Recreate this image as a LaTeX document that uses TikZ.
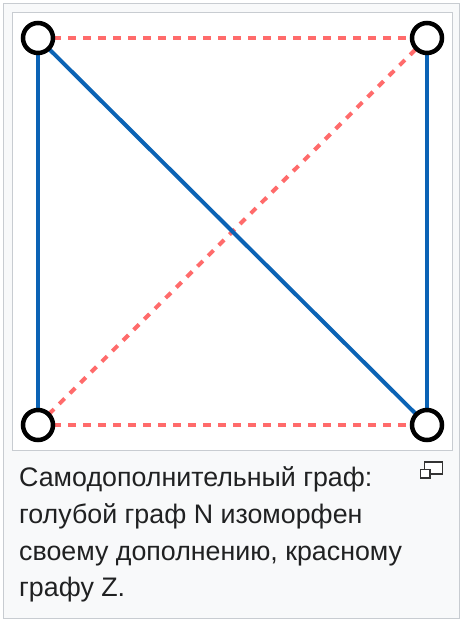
\documentclass[tikz,border=0pt]{standalone}
\usepackage{fontspec}
\setmainfont{Liberation Sans}
\definecolor{frameg}{HTML}{C8CCD1}
\definecolor{bgg}{HTML}{F8F9FA}
\definecolor{blueedge}{HTML}{0B63B5}
\definecolor{rededge}{HTML}{FF6B6B}
\definecolor{txt}{HTML}{202122}
\tikzset{
  vtx/.style={circle, draw=black, fill=white, line width=4.5pt, minimum size=30pt, inner sep=0pt},
  blueline/.style={draw=blueedge, line width=4pt},
  redline/.style={draw=rededge, line width=4pt, dash pattern=on 7.5pt off 7.5pt},
  captxt/.style={anchor=base west, inner sep=0pt, text=txt, font=\fontsize{26.8}{36}\selectfont},
  iconbox/.style={draw=black!80, line width=1.5pt, fill=white}
}
\begin{document}
\begin{tikzpicture}[x=1pt,y=-1pt]
\useasboundingbox (0,0) rectangle (463,621);
\draw[frameg, fill=bgg, line width=1pt] (3.5,3.5) rectangle (459.5,618.5);
\draw[frameg, fill=white, line width=1pt] (12.5,12.5) rectangle (452.5,450.5);
\coordinate (tl) at (38,38);
\coordinate (tr) at (427,38);
\coordinate (bl) at (38,425);
\coordinate (br) at (427,425);
\draw[redline] (tl) -- (tr);
\draw[redline] (bl) -- (br);
\draw[redline] (bl) -- (tr);
\draw[blueline] (tl) -- (bl);
\draw[blueline] (tr) -- (br);
\draw[blueline] (tl) -- (br);
\node[vtx] (a) at (tl) {};
\node[vtx] (b) at (tr) {};
\node[vtx] (c) at (bl) {};
\node[vtx] (d) at (br) {};
\node[captxt] (l1) at (19,486.5) {Самодополнительный граф:};
\node[captxt] (l2) at (19,523) {голубой граф N изоморфен};
\node[captxt] (l3) at (19,560) {своему дополнению, красному};
\node[captxt] (l4) at (19,596.5) {графу Z.};
\draw[iconbox] (424.5,462) rectangle (442.5,474);
\draw[iconbox] (420.5,469.5) rectangle (430,478);
\end{tikzpicture}
\end{document}
